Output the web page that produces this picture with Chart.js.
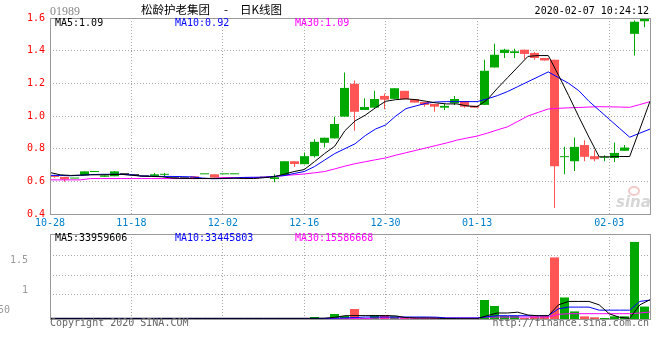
<!DOCTYPE html>
<html>
<head>
<meta charset="utf-8">
<script src="https://cdn.jsdelivr.net/npm/chart.js@4/dist/chart.umd.min.js"></script>
<style>
  body { margin: 0; background: #fff; width: 660px; height: 360px; position: relative; overflow: hidden;
         font-family: "DejaVu Sans Mono", monospace; font-size: 10px; }
  canvas { position: absolute; left: 0; }
  .t { position: absolute; white-space: pre; line-height: 12px; }
  .cjk { font-family: "Noto Sans CJK SC", sans-serif; font-size: 11.5px; line-height: 14px; color: #000; }
</style>
</head>
<body>
<canvas id="kChart" width="660" height="232" style="top:0"></canvas>
<canvas id="volChart" width="660" height="100" style="top:230px"></canvas>

<div class="t" style="left:50px;top:5px;color:#888;font-family:'Liberation Serif',serif;font-size:12px">01989</div>
<div class="t cjk" style="left:141px;top:2px">松龄护老集团</div>
<div class="t cjk" style="left:224px;top:2px">-</div>
<div class="t cjk" style="left:240px;top:2px">日K线图</div>
<div class="t" style="right:11px;top:5px;color:#000">2020-02-07 10:24:12</div>

<div class="t" style="left:55px;top:17px;color:#000">MA5:1.09</div>
<div class="t" style="left:175px;top:17px;color:#0000ff">MA10:0.92</div>
<div class="t" style="left:295px;top:17px;color:#ff00ff">MA30:1.09</div>

<div class="t" style="left:55px;top:232px;color:#000">MA5:33959606</div>
<div class="t" style="left:175px;top:232px;color:#0000ff">MA10:33445803</div>
<div class="t" style="left:295px;top:232px;color:#ff00ff">MA30:15586668</div>

<div class="t" style="left:10px;top:254px;color:#999">1.5</div>
<div class="t" style="left:22px;top:284px;color:#999">1</div>
<div class="t" style="left:-2px;top:304px;color:#999">50</div>

<div class="t" style="left:50px;top:317px;color:#666">Copyright 2020 SINA.COM</div>
<div class="t" style="right:11px;top:317px;color:#666">http://finance.sina.com.cn</div>

<div style="position:absolute;left:628px;top:186px;width:8px;height:6px;border:2px solid #f4c8c8;border-radius:50%"></div>
<div class="t" style="left:616px;top:193px;color:#d6d6d6;font:italic bold 15px 'DejaVu Sans',sans-serif">sina</div>

<script>
// 日K数据 (按K线序号 0..59)
const opens  = [0.636,0.627,0.617,0.637,0.657,0.628,0.631,0.643,0.637,0.630,
                0.633,0.640,0.618,0.618,0.631,0.643,0.643,0.643,0.643,0.620,
                0.622,0.622,0.614,0.637,0.723,0.705,0.754,0.836,0.863,0.996,
                1.197,1.037,1.051,1.123,1.105,1.154,1.103,1.086,1.074,1.051,
                1.078,1.092,1.063,1.068,1.297,1.386,1.386,1.406,1.386,1.355,
                1.345,0.748,0.723,0.822,0.754,0.745,0.743,0.787,1.503,1.580];
const highs  = [0.640,0.627,0.618,0.661,0.658,0.636,0.661,0.643,0.637,0.630,
                0.651,0.651,0.618,0.618,0.631,0.644,0.643,0.644,0.644,0.620,
                0.622,0.622,0.643,0.723,0.723,0.777,0.857,0.867,0.996,1.266,
                1.217,1.109,1.154,1.137,1.170,1.154,1.103,1.086,1.074,1.074,
                1.123,1.092,1.063,1.345,1.443,1.412,1.412,1.406,1.392,1.355,
                1.345,0.811,0.869,0.852,0.791,0.760,0.838,0.822,1.585,1.600];
const lows   = [0.622,0.598,0.617,0.637,0.657,0.628,0.631,0.643,0.637,0.630,
                0.633,0.631,0.618,0.618,0.614,0.643,0.623,0.643,0.643,0.614,
                0.618,0.622,0.594,0.637,0.688,0.705,0.746,0.807,0.863,0.996,
                0.910,1.037,1.051,1.041,1.105,1.103,1.082,1.057,1.026,1.037,
                1.068,1.051,1.051,1.068,1.297,1.355,1.355,1.349,1.345,1.340,
                0.436,0.643,0.663,0.723,0.723,0.723,0.719,0.787,1.371,1.543];
const closes = [0.627,0.612,0.618,0.661,0.658,0.636,0.661,0.643,0.637,0.630,
                0.643,0.641,0.618,0.618,0.614,0.644,0.623,0.644,0.644,0.614,
                0.618,0.622,0.625,0.723,0.706,0.754,0.842,0.867,0.951,1.172,
                1.026,1.055,1.104,1.100,1.170,1.103,1.082,1.068,1.057,1.062,
                1.104,1.057,1.051,1.277,1.375,1.406,1.396,1.380,1.355,1.340,
                0.692,0.752,0.811,0.750,0.735,0.748,0.774,0.807,1.577,1.597];

// 均线
const ma5  = [0.654,0.640,0.636,0.638,0.640,0.640,0.641,0.643,0.637,0.632,
              0.630,0.628,0.620,0.618,0.618,0.617,0.618,0.618,0.619,0.618,
              0.617,0.622,0.628,0.643,0.660,0.672,0.720,0.770,0.815,0.910,
              0.970,1.005,1.050,1.090,1.100,1.105,1.100,1.090,1.080,1.074,
              1.074,1.062,1.057,1.100,1.170,1.235,1.300,1.365,1.370,1.370,
              1.250,1.125,0.995,0.870,0.750,0.750,0.752,0.752,0.920,1.090];
const ma10 = [0.637,0.636,0.634,0.637,0.641,0.643,0.643,0.643,0.640,0.632,
              0.631,0.630,0.630,0.629,0.627,0.620,0.616,0.617,0.620,0.624,
              0.625,0.625,0.630,0.635,0.648,0.660,0.690,0.730,0.770,0.800,
              0.830,0.880,0.920,0.945,1.000,1.045,1.062,1.078,1.086,1.088,
              1.088,1.088,1.088,1.105,1.125,1.150,1.180,1.210,1.240,1.270,
              1.235,1.200,1.155,1.090,1.035,0.980,0.925,0.870,0.895,0.920];
const ma30 = [0.609,0.609,0.609,0.609,0.617,0.617,0.617,0.617,0.617,0.617,
              0.617,0.617,0.617,0.617,0.617,0.617,0.617,0.623,0.623,0.623,
              0.623,0.625,0.630,0.635,0.640,0.645,0.652,0.660,0.676,0.693,
              0.708,0.720,0.732,0.743,0.760,0.775,0.790,0.805,0.820,0.835,
              0.852,0.865,0.877,0.895,0.915,0.934,0.967,1.000,1.022,1.043,
              1.047,1.050,1.052,1.055,1.057,1.056,1.055,1.053,1.070,1.088];

// 成交量 (百万股)
const vols     = [1.2,1.2,1.5,1.2,1.2,1.5,1.2,1.0,1.0,1.0,
                  1.5,1.2,1.0,1.0,1.2,1.2,1.5,1.2,1.2,1.2,
                  1.2,1.0,1.5,1.5,1.2,1.2,3.5,1.5,8.8,5.3,
                  17.6,1.8,7.0,7.0,4.7,2.6,2.0,2.0,2.0,1.5,
                  2.0,1.5,1.5,33.5,23.0,5.3,5.3,1.8,4.7,4.7,
                  108.7,38.0,13.4,4.6,3.0,1.8,4.7,4.7,136.0,22.0];
const volMa5   = [1.2,1.2,1.2,1.2,1.2,1.2,1.2,1.2,1.2,1.2,
                  1.2,1.2,1.2,1.2,1.2,1.2,1.2,1.2,1.2,1.2,
                  1.2,1.2,1.2,1.2,1.2,1.2,1.2,1.5,3.0,5.8,
                  6.0,6.0,6.0,6.0,5.5,2.5,1.8,1.8,1.5,0.8,
                  0.5,0.5,0.5,6.0,10.6,10.6,12.0,7.0,5.8,5.8,
                  25.0,31.0,31.0,31.0,25.0,9.0,3.0,1.2,25.0,34.0];
const volMa10  = [1.0,1.0,1.0,1.0,1.0,1.0,1.0,1.0,1.0,1.0,
                  1.0,1.0,1.0,1.0,1.0,1.0,1.0,1.0,1.0,1.0,
                  1.0,1.0,1.0,1.0,1.0,1.0,1.0,1.0,1.5,2.0,
                  2.5,3.5,3.5,3.5,3.5,3.5,3.5,3.5,3.2,1.8,
                  1.8,1.8,1.8,4.0,5.8,5.8,5.8,5.8,5.8,5.8,
                  18.0,21.0,21.0,21.0,15.6,15.6,15.6,15.6,31.0,33.4];
const volMa30  = [0.3,0.3,0.3,0.3,0.3,0.3,0.3,0.3,0.3,0.3,
                  0.3,0.3,0.3,0.3,0.3,0.3,0.3,0.3,0.3,0.3,
                  0.3,0.3,0.3,0.3,0.3,0.3,0.3,0.3,0.5,0.5,
                  0.5,0.6,1.8,1.8,1.8,1.8,1.8,1.8,1.8,1.8,
                  1.8,1.8,1.8,3.5,3.5,3.5,3.5,3.5,3.5,3.5,
                  8.2,9.4,9.4,9.4,9.4,9.4,9.4,9.4,10.6,12.4];

// 刻度
const xTickIdx    = [0, 8, 17, 25, 33, 42, 55];
const xTickLabels = ['10-28', '11-18', '12-02', '12-16', '12-30', '01-13', '02-03'];
const yTicks      = [0.4, 0.6, 0.8, 1.0, 1.2, 1.4, 1.6];
const volGrid     = [42.4, 77.6, 112.9];

const GREEN = '#00a800', RED = '#ff5555';
const slots = closes.map((c, i) => i);
const candleColor = i => closes[i] > opens[i] ? GREEN : (closes[i] < opens[i] ? RED : '#000000');

Chart.defaults.font.family = '"DejaVu Sans Mono", monospace';
Chart.defaults.font.size = 10;

// 外框
const framePlugin = {
    id: 'frame',
    afterDraw(chart) {
        const { ctx, chartArea: a } = chart;
        ctx.save();
        ctx.strokeStyle = '#999';
        ctx.lineWidth = 1;
        ctx.strokeRect(Math.round(a.left) + 0.5, Math.round(a.top) + 0.5,
                       Math.round(a.right - a.left), Math.round(a.bottom - a.top));
        ctx.restore();
    }
};

const lineDs = (arr, color) => ({
    type: 'line', data: arr.map((v, i) => ({ x: i, y: v })), xAxisID: 'x', yAxisID: 'y',
    borderColor: color, borderWidth: 1, pointRadius: 0, tension: 0, order: 0
});

const xLineAxis = showLabels => ({
    type: 'linear', min: 0, max: 59, offset: false,
    afterBuildTicks: s => { s.ticks = xTickIdx.map(v => ({ value: v })); },
    afterFit: s => { s.height = showLabels ? 18 : 0; },
    ticks: { display: showLabels, autoSkip: false, maxRotation: 0, color: '#0080cc', padding: 3,
             callback: (v, k) => xTickLabels[k] },
    grid: { color: '#aaa', drawTicks: false, offset: false },
    border: { display: false, dash: [1, 2] }
});
const xCandleAxis = { type: 'linear', display: false, min: -0.45, max: 59.55, offset: false, grid: { offset: false } };

// K线图
new Chart(document.getElementById('kChart'), {
    type: 'bar',
    data: {
        datasets: [
            lineDs(ma5, '#000000'),
            lineDs(ma10, '#0000ff'),
            lineDs(ma30, '#ff00ff'),
            {
                data: slots.map(i => ({ x: i, y: [opens[i], closes[i]] })),
                xAxisID: 'xc', yAxisID: 'y', grouped: false,
                backgroundColor: slots.map(candleColor),
                barThickness: 9, maxBarThickness: 9, minBarLength: 1, inflateAmount: 0, order: 1
            },
            {
                data: slots.map(i => ({ x: i, y: [lows[i], highs[i]] })),
                xAxisID: 'xc', yAxisID: 'y', grouped: false,
                backgroundColor: slots.map(candleColor),
                barThickness: 1, maxBarThickness: 1, inflateAmount: 0, order: 2
            }
        ]
    },
    options: {
        responsive: false,
        animation: false,
        devicePixelRatio: 1,
        layout: { padding: { top: 18, right: 10, left: 0, bottom: 0 } },
        plugins: { legend: { display: false }, tooltip: { enabled: false } },
        scales: {
            x: xLineAxis(true),
            xc: xCandleAxis,
            y: {
                type: 'linear', min: 0.4, max: 1.6,
                afterBuildTicks: s => { s.ticks = yTicks.map(v => ({ value: v })); },
                afterFit: s => { s.width = 50; },
                ticks: { color: '#ff0000', padding: 5, callback: v => v.toFixed(1) },
                grid: { color: '#aaa', drawTicks: false },
                border: { display: false, dash: [1, 2] }
            }
        }
    },
    plugins: [framePlugin]
});

// 成交量
const volLine = (arr, color) => ({
    type: 'line', data: arr.map((v, i) => ({ x: i, y: v })), xAxisID: 'x', yAxisID: 'y',
    borderColor: color, borderWidth: 1, pointRadius: 0, tension: 0, order: 0
});

new Chart(document.getElementById('volChart'), {
    type: 'bar',
    data: {
        datasets: [
            volLine(volMa5, '#000000'),
            volLine(volMa10, '#0000ff'),
            volLine(volMa30, '#ff00ff'),
            {
                data: slots.map(i => ({ x: i, y: vols[i] })),
                xAxisID: 'xc', yAxisID: 'y', grouped: false,
                backgroundColor: slots.map(candleColor),
                barThickness: 9, maxBarThickness: 9, inflateAmount: 0, order: 1
            }
        ]
    },
    options: {
        responsive: false,
        animation: false,
        devicePixelRatio: 1,
        layout: { padding: { top: 4, right: 10, left: 0, bottom: 11 } },
        plugins: { legend: { display: false }, tooltip: { enabled: false } },
        scales: {
            x: xLineAxis(false),
            xc: xCandleAxis,
            y: {
                type: 'linear', min: 0, max: 150,
                afterBuildTicks: s => { s.ticks = volGrid.map(v => ({ value: v })); },
                afterFit: s => { s.width = 50; },
                ticks: { display: false },
                grid: { color: '#aaa', drawTicks: false },
                border: { display: false, dash: [1, 2] }
            }
        }
    },
    plugins: [framePlugin]
});
</script>
</body>
</html>
